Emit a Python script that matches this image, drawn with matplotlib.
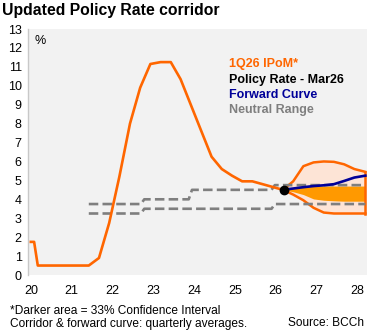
import matplotlib
matplotlib.use("Agg")
import matplotlib.pyplot as plt

plt.rcParams['font.family'] = ['Liberation Sans', 'DejaVu Sans']

# Policy rate history up to the IPoM starting point (years since 2000)
ipom_x = [20.0, 20.08, 20.17, 20.42, 20.67, 20.92, 21.17, 21.42, 21.67, 21.92,
          22.17, 22.43, 22.68, 22.93, 23.18, 23.43, 23.67, 23.92, 24.17, 24.43,
          24.68, 24.93, 25.18, 25.43, 25.68, 25.93, 26.18]
ipom_y = [1.75, 1.75, 0.5, 0.5, 0.5, 0.5, 0.5, 0.5, 0.9, 2.75,
          5.2, 8.0, 9.9, 11.15, 11.25, 11.25, 10.35, 9.0, 7.65, 6.25,
          5.6, 5.25, 4.95, 4.95, 4.8, 4.65, 4.5]

# IPoM corridor (outer band) and 33% confidence interval (inner band)
fan_x = [26.18, 26.43, 26.68, 26.93, 27.18, 27.43, 27.68, 27.93, 28.2]
outer_hi = [4.5, 4.95, 5.75, 5.95, 6.0, 5.98, 5.85, 5.6, 5.45]
outer_lo = [4.5, 4.25, 3.95, 3.55, 3.3, 3.25, 3.25, 3.25, 3.25]
inner_hi = [4.5, 4.57, 4.64, 4.7, 4.7, 4.7, 4.7, 4.7, 4.7]
inner_lo = [4.5, 4.4, 4.25, 4.02, 3.95, 3.92, 3.9, 3.9, 3.9]

# Forward curve
fwd_x = [26.18, 26.43, 26.68, 26.93, 27.18, 27.43, 27.68, 27.93, 28.2]
fwd_y = [4.5, 4.57, 4.64, 4.7, 4.74, 4.8, 4.97, 5.15, 5.25]

# Policy rate Mar26
policy_x = 26.2
policy_y = 4.5

# Neutral range bounds
neutral_lo_x = [21.42, 22.7, 22.78, 25.9, 25.98, 28.2]
neutral_lo_y = [3.25, 3.25, 3.5, 3.5, 3.75, 3.75]
neutral_hi_x = [21.42, 22.7, 22.78, 23.87, 23.95, 25.9, 25.98, 28.2]
neutral_hi_y = [3.75, 3.75, 4.0, 4.0, 4.5, 4.5, 4.75, 4.75]

x_ticks = [20, 21, 22, 23, 24, 25, 26, 27, 28]
y_ticks = list(range(0, 14))

orange = '#ff6600'
dark_orange = '#ff9900'
light_orange = '#fde4d6'
blue = '#000099'
grey = '#7f7f7f'

W, H = 375, 334
fig = plt.figure(figsize=(W / 100, H / 100), dpi=100)
fig.set_facecolor('white')
ax = fig.add_axes([28 / W, 1 - 275 / H, (367 - 28) / W, (275 - 29) / H])
ax.set_facecolor('#f2f2f2')

# bands
ax.fill_between(fan_x, outer_lo, outer_hi, color=light_orange, lw=0, zorder=1)
ax.fill_between(fan_x, inner_lo, inner_hi, color=dark_orange, lw=0, zorder=2)
ax.plot(fan_x, outer_hi, color=orange, lw=1.8, zorder=3)
ax.plot(fan_x, outer_lo, color=orange, lw=1.8, zorder=3)
ax.plot([fan_x[-1], fan_x[-1]], [outer_lo[-1], outer_hi[-1]], color=orange, lw=1.8, zorder=3)

# neutral range
dash = (0, (3.6, 1.6))
ax.plot(neutral_lo_x, neutral_lo_y, color=grey, lw=1.9, ls=dash, zorder=4)
ax.plot(neutral_hi_x, neutral_hi_y, color=grey, lw=1.9, ls=dash, zorder=4)

ax.plot(ipom_x, ipom_y, color=orange, lw=1.9, zorder=5)
ax.plot(fwd_x, fwd_y, color=blue, lw=1.9, zorder=6)
ax.plot([policy_x], [policy_y], 'o', color='black', ms=6, zorder=7)

ax.set_xlim(19.93, 28.24)
ax.set_ylim(0, 13)
ax.set_xticks(x_ticks)
ax.set_xticklabels([str(t) for t in x_ticks])
ax.set_yticks(y_ticks)
ax.tick_params(axis='both', length=0, labelsize=9, colors='black')
ax.tick_params(axis='y', pad=4.5)
ax.tick_params(axis='x', pad=7)
for s in ['top', 'right', 'bottom']:
    ax.spines[s].set_visible(False)
ax.spines['left'].set_color('#c8c8c8')
ax.spines['left'].set_linewidth(1)

ax.text(20.1, 12.34, '%', fontsize=9, va='center', ha='left')

# title and legend texts
fig.text(2 / W, 1 - 15 / H, 'Updated Policy Rate corridor', fontsize=11.3,
         fontweight='bold', ha='left', va='baseline')
legend = [('1Q26 IPoM*', orange), ('Policy Rate - Mar26', 'black'),
          ('Forward Curve', blue), ('Neutral Range', grey)]
for i, (txt, c) in enumerate(legend):
    fig.text(229 / W, 1 - (67.5 + 15.3 * i) / H, txt, color=c, fontsize=9,
             fontweight='bold', ha='left', va='baseline')

fig.text(10 / W, 1 - 314 / H, '*Darker area = 33% Confidence Interval',
         fontsize=8.6, ha='left', va='baseline')
fig.text(10 / W, 1 - 327 / H, 'Corridor & forward curve: quarterly averages.',
         fontsize=8.6, ha='left', va='baseline')
fig.text(364.5 / W, 1 - 326 / H, 'Source: BCCh', fontsize=8.6,
         ha='right', va='baseline')

fig.savefig('out.png', dpi=100)
